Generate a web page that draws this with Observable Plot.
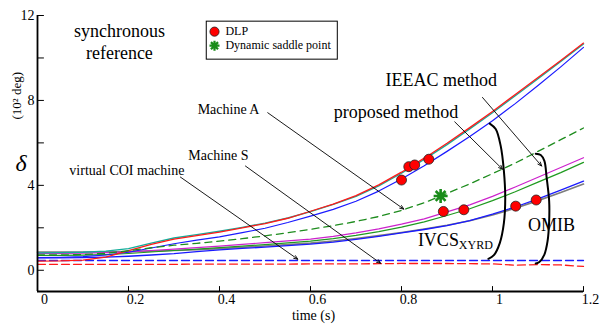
<!DOCTYPE html>
<html>
<head>
<meta charset="utf-8">
<script src="https://cdn.jsdelivr.net/npm/d3@7"></script>
<script src="https://cdn.jsdelivr.net/npm/@observablehq/plot@0.6"></script>
<style>
  html, body { margin: 0; padding: 0; background: #fff; }
  #chart svg { display: block; }
</style>
</head>
<body>
<div id="chart"></div>
<script>
// Simulation time (s)
const time = [0, 0.05, 0.1, 0.15, 0.2, 0.25, 0.3, 0.35, 0.4, 0.45, 0.5, 0.55, 0.6,
              0.65, 0.7, 0.75, 0.8, 0.85, 0.9, 0.95, 1, 1.05, 1.1, 1.15, 1.2];

// Rotor angle trajectories, δ in 10² deg
// Machine A group (critical machines)
const redA  = [0.43, 0.44, 0.48, 0.62, 0.92, 1.22, 1.47, 1.63, 1.80, 2.00, 2.20, 2.45, 2.78,
               3.12, 3.52, 4.02, 4.62, 5.28, 5.98, 6.72, 7.48, 8.28, 9.08, 9.88, 10.70];
const tealA = [0.82, 0.83, 0.85, 0.90, 1.02, 1.28, 1.52, 1.68, 1.84, 2.02, 2.22, 2.46, 2.76,
               3.10, 3.48, 3.97, 4.57, 5.22, 5.92, 6.66, 7.42, 8.22, 9.02, 9.84, 10.66];
const blueA = [0.60, 0.61, 0.64, 0.72, 0.85, 1.05, 1.25, 1.42, 1.57, 1.77, 1.98, 2.25, 2.55,
               2.87, 3.25, 3.73, 4.30, 4.92, 5.60, 6.30, 7.04, 7.85, 8.70, 9.58, 10.50];
// Equivalent machine trajectory
const greenDash = [0.72, 0.72, 0.74, 0.80, 0.92, 1.06, 1.18, 1.27, 1.37, 1.49, 1.62, 1.77, 1.93,
                   2.10, 2.30, 2.53, 2.82, 3.18, 3.62, 4.07, 4.55, 5.05, 5.60, 6.15, 6.70];
// Machine S group
const magentaS = [0.80, 0.80, 0.81, 0.83, 0.87, 0.93, 1.00, 1.07, 1.14, 1.22, 1.30, 1.38, 1.47,
                  1.60, 1.76, 1.95, 2.17, 2.42, 2.75, 3.08, 3.48, 3.92, 4.38, 4.84, 5.30];
const greenS   = [0.70, 0.70, 0.71, 0.74, 0.79, 0.86, 0.93, 1.00, 1.07, 1.14, 1.21, 1.29, 1.37,
                  1.49, 1.64, 1.82, 2.03, 2.28, 2.58, 2.90, 3.28, 3.70, 4.15, 4.60, 5.08];
const grayS    = [0.86, 0.86, 0.86, 0.87, 0.88, 0.90, 0.93, 0.97, 1.02, 1.08, 1.14, 1.21, 1.28,
                  1.38, 1.50, 1.63, 1.78, 1.94, 2.12, 2.33, 2.60, 2.92, 3.28, 3.66, 4.06];
const blueS    = [0.58, 0.58, 0.60, 0.62, 0.66, 0.72, 0.78, 0.88, 0.96, 1.03, 1.09, 1.16, 1.23,
                  1.33, 1.46, 1.60, 1.76, 1.92, 2.10, 2.34, 2.64, 2.98, 3.36, 3.77, 4.20];
// Virtual COI machines
const blueCOI = [0.46, 0.46, 0.46, 0.46, 0.46, 0.46, 0.46, 0.46, 0.46, 0.46, 0.46, 0.46, 0.46,
                 0.46, 0.46, 0.46, 0.46, 0.46, 0.46, 0.46, 0.46, 0.46, 0.46, 0.46, 0.46];
const redCOI  = [0.28, 0.28, 0.28, 0.28, 0.28, 0.28, 0.28, 0.29, 0.29, 0.29, 0.29, 0.29, 0.30,
                 0.30, 0.30, 0.31, 0.32, 0.32, 0.32, 0.31, 0.30, 0.24, 0.27, 0.25, 0.18];

// Dynamic liberation points (DLP)
const dlpTime  = [0.800, 0.816, 0.829, 0.860, 0.892, 0.937, 1.051, 1.096];
const dlpDelta = [4.25, 4.88, 4.96, 5.23, 2.77, 2.85, 3.02, 3.31];
// Dynamic saddle point
const saddleTime  = [0.886];
const saddleDelta = [3.50];

// Axis ticks
const xTicks = [0, 0.2, 0.4, 0.6, 0.8, 1, 1.2];
const xTickLabels = ["0", "0.2", "0.4", "0.6", "0.8", "1", "1.2"];
const yTicks = [0, 4, 8, 12];
const yTickLabels = ["0", "4", "8", "12"];
const yTickMarks = [0, 2, 4, 6, 8, 10, 12];

// Centred annotation texts, anchored in (time, δ) at their baseline
const centerText = ["synchronous", "reference"];
const centerTime = [0.180, 0.180];
const centerDelta = [10.97, 9.97];

// Left-aligned annotation texts
const noteText = ["Machine A", "virtual COI machine", "proposed method", "IEEAC method", "IVCS", "OMIB"];
const noteTime = [0.352, 0.070, 0.651, 0.765, 0.836, 1.078];
const noteDelta = [7.37, 4.51, 7.18, 8.69, 1.13, 1.84];
const noteSize = [14, 14, 18, 18, 18, 18];

// Right-aligned annotation text
const rightText = ["Machine S"];
const rightTime = [0.464];
const rightDelta = [5.20];

// Subscript of IVCS
const subText = ["XYRD"];
const subTime = [0.926];
const subDelta = [1.02];

// Leader arrows: start and end in (time, δ)
const arrowT1 = [0.506, 0.457, 0.314, 0.917, 0.978];
const arrowD1 = [7.42, 4.91, 4.39, 6.99, 8.14];
const arrowT2 = [0.805, 0.754, 0.572, 1.022, 1.108];
const arrowD2 = [2.88, 0.33, 0.52, 4.76, 4.91];

// Brackets grouping the two methods' trajectories
const ivcsBraceT = [0.994, 1.007, 1.018, 1.025, 1.028, 1.025, 1.016, 1.003, 0.991];
const ivcsBraceD = [6.91, 6.65, 5.86, 4.68, 3.40, 2.22, 1.28, 0.71, 0.54];
const omibBraceT = [1.095, 1.106, 1.114, 1.119, 1.1245, 1.1245, 1.121, 1.114, 1.103, 1.095];
const omibBraceD = [5.49, 5.43, 5.15, 4.36, 3.26, 2.31, 1.37, 0.74, 0.39, 0.32];

// Legend box (time, δ) and entries
const legendBox = [{x1: 0.372, x2: 0.660, y1: 9.92, y2: 11.71}];
const legendMarkT = 0.389;
const legendTextT = 0.413;
const legendRowD = [11.24, 10.58];
const legendLabels = ["DLP", "Dynamic saddle point"];

const FONT = "'Liberation Serif', 'Times New Roman', serif";

// Eight-armed asterisk marker
const asterisk = {
  draw(ctx, size) {
    const r = Math.sqrt(size / Math.PI);
    const d = r * Math.SQRT1_2;
    ctx.moveTo(-r, 0); ctx.lineTo(r, 0);
    ctx.moveTo(0, -r); ctx.lineTo(0, r);
    ctx.moveTo(-d, -d); ctx.lineTo(d, d);
    ctx.moveTo(-d, d); ctx.lineTo(d, -d);
  }
};
// Straight tick stub
const tickShape = { draw(ctx, l) { ctx.moveTo(0, 0); ctx.lineTo(0, -l); } };

const series = [
  {v: grayS, stroke: "#7d7d7d", w: 1.6},
  {v: blueS, stroke: "#1a1aff", w: 1.3},
  {v: greenS, stroke: "#1f9a1f", w: 1.2},
  {v: magentaS, stroke: "#cc22cc", w: 1.2},
  {v: blueA, stroke: "#1a1aff", w: 1.2},
  {v: tealA, stroke: "#14ad9a", w: 1.4},
  {v: redA, stroke: "#ff1a1a", w: 1.3}
];

const chart = Plot.plot({
  width: 600,
  height: 324,
  marginLeft: 37,
  marginRight: 17,
  marginTop: 15,
  marginBottom: 33,
  x: {domain: [0, 1.2], label: null},
  y: {domain: [-1, 12], label: null},
  style: {fontFamily: FONT, background: "#fff", color: "#000", overflow: "visible"},
  marks: [
    // Virtual COI machines (dashed)
    Plot.line(time, {x: time, y: redCOI, stroke: "#ff1a1a", strokeWidth: 1.3, strokeDasharray: "8,4"}),
    Plot.line(time, {x: time, y: blueCOI, stroke: "#1a1aff", strokeWidth: 1.3, strokeDasharray: "8,4"}),
    // Machine trajectories
    ...series.map(s => Plot.line(time, {x: time, y: s.v, stroke: s.stroke, strokeWidth: s.w})),
    Plot.line(time, {x: time, y: greenDash, stroke: "#1e8c1e", strokeWidth: 1.3, strokeDasharray: "7,5"}),

    // Brackets
    Plot.line(ivcsBraceT, {x: ivcsBraceT, y: ivcsBraceD, curve: "catmull-rom", stroke: "#000", strokeWidth: 2}),
    Plot.line(omibBraceT, {x: omibBraceT, y: omibBraceD, curve: "catmull-rom", stroke: "#000", strokeWidth: 2}),

    // Leader arrows
    Plot.arrow(arrowT1, {x1: arrowT1, y1: arrowD1, x2: arrowT2, y2: arrowD2,
      stroke: "#000", strokeWidth: 0.9, headLength: 7, headAngle: 45}),

    // DLPs and saddle point
    Plot.dot(dlpTime, {x: dlpTime, y: dlpDelta, r: 5, fill: "#ff0000", stroke: "#222", strokeWidth: 0.8}),
    Plot.dot(saddleTime, {x: saddleTime, y: saddleDelta, r: 7, symbol: asterisk, fill: "none", stroke: "#1a8c1a", strokeWidth: 2.6}),

    // Annotation texts
    Plot.text(centerText, {x: centerTime, y: centerDelta, text: centerText, fontSize: 18,
      textAnchor: "middle", lineAnchor: "bottom", fill: "#000"}),
    Plot.text(noteText, {x: noteTime, y: noteDelta, text: noteText, fontSize: noteSize,
      textAnchor: "start", lineAnchor: "bottom", fill: "#000"}),
    Plot.text(rightText, {x: rightTime, y: rightDelta, text: rightText, fontSize: 14,
      textAnchor: "end", lineAnchor: "bottom", fill: "#000"}),
    Plot.text(subText, {x: subTime, y: subDelta, text: subText, fontSize: 12,
      textAnchor: "start", lineAnchor: "bottom", fill: "#000"}),

    // Legend
    Plot.rect(legendBox, {x1: "x1", x2: "x2", y1: "y1", y2: "y2", fill: "#fff", stroke: "#000", strokeWidth: 1}),
    Plot.dot([0], {x: [legendMarkT], y: [legendRowD[0]], r: 4.6, fill: "#ff0000", stroke: "#222", strokeWidth: 0.8}),
    Plot.dot([0], {x: [legendMarkT], y: [legendRowD[1]], r: 5, symbol: asterisk, fill: "none", stroke: "#1a8c1a", strokeWidth: 2.2}),
    Plot.text(legendLabels, {x: legendLabels.map(() => legendTextT), y: legendRowD, text: legendLabels,
      fontSize: 12, textAnchor: "start", lineAnchor: "middle"}),

    // Axes
    Plot.ruleX([0], {stroke: "#000", strokeWidth: 1.8}),
    Plot.ruleY([-1], {stroke: "#000", strokeWidth: 1.8}),
    Plot.vector(yTickMarks, {y: d => d, frameAnchor: "left", rotate: 90, length: 6, anchor: "start", shape: tickShape, stroke: "#000", strokeWidth: 1}),
    Plot.vector(xTicks, {x: d => d, frameAnchor: "bottom", rotate: 0, length: 5, anchor: "start", shape: tickShape, stroke: "#000", strokeWidth: 1}),
    Plot.axisY({ticks: yTicks, tickSize: 0, tickPadding: 3, fontSize: 14, label: null,
      tickFormat: (d, i) => yTickLabels[i]}),
    Plot.axisX({ticks: xTicks, tickSize: 0, tickPadding: 3, dx: 7, fontSize: 14, label: null,
      tickFormat: (d, i) => xTickLabels[i]}),

    // Axis titles
    Plot.text(["time (s)"], {frameAnchor: "bottom", dx: 3, dy: 28, text: d => d, fontSize: 14, lineAnchor: "bottom"}),
    Plot.text(["δ"], {frameAnchor: "left", dx: -22, dy: 10, text: d => d, fontSize: 24, fontStyle: "italic", lineAnchor: "middle"}),
    Plot.text(["(10² deg)"], {frameAnchor: "left", dx: -21, dy: -34, rotate: -90, text: d => d, fontSize: 13, lineAnchor: "middle"})
  ]
});

document.getElementById("chart").appendChild(chart);
</script>
</body>
</html>
